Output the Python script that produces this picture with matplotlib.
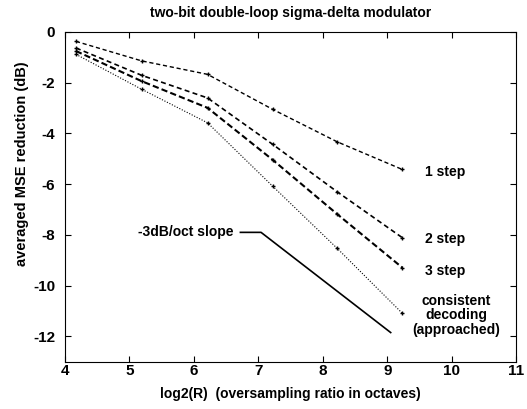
import matplotlib
matplotlib.use('Agg')
import matplotlib.pyplot as plt

plt.rcParams['font.family'] = ['Liberation Sans', 'DejaVu Sans']
plt.rcParams['font.weight'] = 'bold'
plt.rcParams['axes.unicode_minus'] = False

# ---- data ----
log2R = [4.17, 5.19, 6.21, 7.22, 8.22, 9.23]
one_step = [-0.37, -1.14, -1.67, -3.05, -4.33, -5.42]
two_step = [-0.63, -1.71, -2.60, -4.43, -6.30, -8.11]
three_step = [-0.75, -1.94, -2.99, -5.04, -7.18, -9.29]
consistent = [-0.88, -2.26, -3.58, -6.08, -8.53, -11.09]

slope_x = [6.72, 7.04, 9.05]
slope_y = [-7.9, -7.9, -11.85]

xticks = [4, 5, 6, 7, 8, 9, 10, 11]
yticks = [0, -2, -4, -6, -8, -10, -12]

fig = plt.figure(figsize=(5.27, 4.09), dpi=100)
ax = fig.add_axes([0.1233, 0.1156, 0.8567, 0.8062])

ax.plot(log2R, one_step, color='k', ls=(0, (3, 2)), lw=1.0, marker='+', ms=3.5)
ax.plot(log2R, two_step, color='k', ls=(0, (3, 2)), lw=1.2, marker='+', ms=3.5)
ax.plot(log2R, three_step, color='k', ls=(0, (3, 1.5)), lw=1.5, marker='+', ms=3.5)
ax.plot(log2R, consistent, color='k', ls=(0, (1, 1.5)), lw=0.8, marker='+', ms=3.5)
ax.plot(slope_x, slope_y, color='k', lw=1.2)

ax.text(6.62, -7.9, '-3dB/oct slope', ha='right', va='center', fontsize=10)
ax.text(9.58, -5.51, '1 step', ha='left', va='center', fontsize=10)
ax.text(9.58, -8.17, '2 step', ha='left', va='center', fontsize=10)
ax.text(9.58, -9.42, '3 step', ha='left', va='center', fontsize=10)
ax.text(10.07, -11.17, 'consistent\ndecoding\n(approached)', ha='center', va='center',
        fontsize=10, linespacing=1.05)

ax.set_xlim(4, 11)
ax.set_ylim(-13, 0)
ax.set_xticks(xticks)
ax.set_yticks(yticks)
ax.tick_params(direction='in', top=True, right=True, length=4, labelsize=11)
ax.tick_params(axis='y', pad=7)
ax.tick_params(axis='x', pad=2)

ax.set_title('two-bit double-loop sigma-delta modulator', fontsize=10, pad=11,
             fontweight='bold')
ax.set_xlabel('log2(R)  (oversampling ratio in octaves)', fontsize=10, labelpad=6,
              fontweight='bold')
ax.set_ylabel('averaged MSE reduction (dB)', fontsize=10.5, fontweight='bold')
ax.yaxis.set_label_coords(-0.08, 0.60)

fig.savefig('out.png', dpi=100)
